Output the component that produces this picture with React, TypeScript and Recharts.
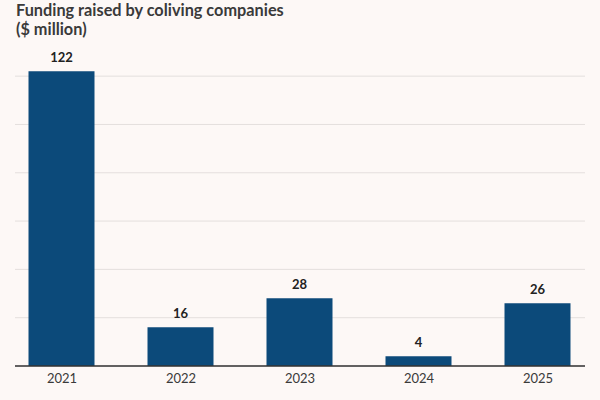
import { BarChart, Bar, XAxis, YAxis, CartesianGrid, LabelList } from "recharts";

// -------------------------
// DATA
// -------------------------
const years = [2021, 2022, 2023, 2024, 2025];
const funding = [122, 16, 28, 4, 26];
const yTicks = [0, 20, 40, 60, 80, 100, 120];
const Y_MAX = 130;

const THEME = {
  bg: "#fdf8f6",
  grid: "#e4dfdd",
  axis: "#333333",
  bar: "#0c4a7a",
  text: "#3a3a3a",
  label: "#222222",
};

const FONT = "Lato, 'Open Sans', sans-serif";

const data = years.map((year, i) => ({ year, value: funding[i] }));

export default function App() {
  return (
    <div
      style={{
        position: "absolute",
        top: 0,
        left: 0,
        width: 600,
        height: 400,
        background: THEME.bg,
        fontFamily: FONT,
        overflow: "hidden",
      }}
    >
      {/* TITLE */}
      <div
        style={{
          position: "absolute",
          left: 16,
          top: 0,
          fontSize: 16.3,
          fontWeight: 700,
          lineHeight: "19px",
          color: "#3a3a3a",
        }}
      >
        Funding raised by coliving companies
        <br />($ million)
      </div>

      <BarChart
        width={600}
        height={400}
        data={data}
        margin={{ top: 52, right: 15, left: 15, bottom: 4 }}
        style={{ position: "absolute", top: 0, left: 0 }}
      >
        {/* grid only at the tick values, no line at the top edge */}
        <CartesianGrid
          vertical={false}
          stroke={THEME.grid}
          horizontalCoordinatesGenerator={({ offset }: any) =>
            yTicks.map((t) => offset.top + offset.height * (1 - t / Y_MAX))
          }
        />
        <XAxis
          dataKey="year"
          type="number"
          domain={[2020.605, 2025.395]}
          ticks={years}
          allowDecimals={false}
          height={30}
          tickLine={false}
          axisLine={{ stroke: THEME.axis, strokeWidth: 1.5 }}
          tick={{ fontSize: 13, fill: THEME.text, fontFamily: FONT }}
        />
        <YAxis
          domain={[0, Y_MAX]}
          ticks={yTicks}
          width={0}
          axisLine={false}
          tickLine={false}
          tickFormatter={() => ""}
        />
        <Bar dataKey="value" fill={THEME.bar} barSize={66} isAnimationActive={false}>
          <LabelList
            dataKey="value"
            position="top"
            offset={9}
            style={{ fill: THEME.label, fontSize: 13, fontWeight: 700, fontFamily: FONT }}
          />
        </Bar>
      </BarChart>
    </div>
  );
}
